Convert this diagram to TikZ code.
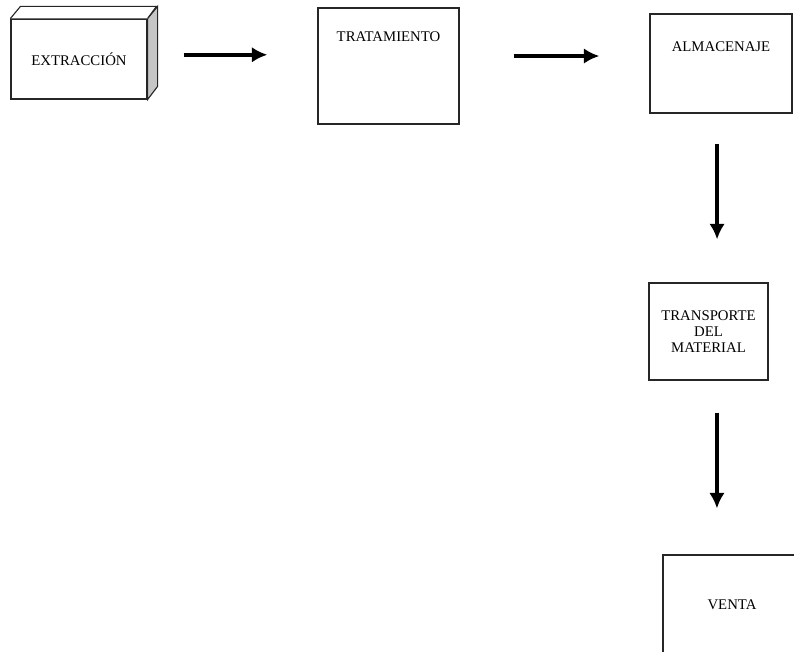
\documentclass[tikz,border=0pt]{standalone}
\usepackage{fontspec}
\setmainfont{Liberation Serif}
\usetikzlibrary{arrows.meta}

\begin{document}
\begin{tikzpicture}[x=0.025cm, y=-0.025cm,
font=\fontsize{10.5}{11.5}\selectfont,
box/.style ={draw=black!85, line width=0.8pt, fill=white, inner sep=0pt, align=center},
edge/.style = {->, > = {Latex[length=11pt,width=11pt]}, line width=2.8pt}]

\useasboundingbox (0,0) rectangle (794,651);
\clip (0,0) rectangle (794,651);

\node[box, minimum width=3.4cm, minimum height=2cm] (EXT) at (79,59) {EXTRACCIÓN};
\draw[box, fill=gray!45] (EXT.north east) -- ++(10,-12) -- ++(0,80) -- (EXT.south east) -- cycle;
\draw[box] (EXT.north west) -- ++(10,-12) -- ++(136,0) -- (EXT.north east);

\node[box, minimum width=3.525cm, minimum height=2.9cm,
  label={[anchor=north, yshift=-13.5pt]north:TRATAMIENTO}] (TRA) at (388.5,66) {};
\node[box, minimum width=3.55cm, minimum height=2.475cm,
  label={[anchor=north, yshift=-16.4pt]north:ALMACENAJE}] (ALM) at (721,63.5) {};
\node[box, minimum width=2.975cm, minimum height=2.425cm] (TRP) at (708.5,331.5) {TRANSPORTE\\DEL\\MATERIAL};
\node[box, minimum width=3.45cm, minimum height=2.5cm] (VEN) at (732,605) {VENTA};

\draw[edge, shorten <=25.6pt, shorten >=35.6pt] ([yshift=3pt]EXT.east) -- ([yshift=3pt]EXT.east -| TRA.west);
\draw[edge, shorten <=38.4pt, shorten >=35.6pt] ([yshift=7.1pt]TRA.east) -- ([yshift=7.1pt]TRA.east -| ALM.west);
\draw[edge, shorten <=21.3pt, shorten >=30.6pt] ([xshift=-2.8pt]ALM.south) -- ([xshift=-2.8pt]ALM.south |- TRP.north);
\draw[edge, shorten <=22.8pt, shorten >=32.7pt] ([xshift=6pt]TRP.south) -- ([xshift=6pt]TRP.south |- VEN.north);

\end{tikzpicture}
\end{document}
